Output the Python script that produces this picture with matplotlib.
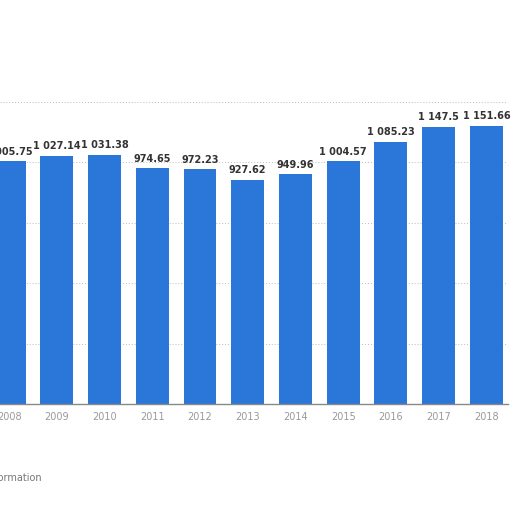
import matplotlib.pyplot as plt

years = ["2008", "2009", "2010", "2011", "2012", "2013", "2014", "2015", "2016", "2017", "2018"]
values = [1005.75, 1027.14, 1031.38, 974.65, 972.23, 927.62, 949.96, 1004.57, 1085.23, 1147.5, 1151.66]
labels = ["1 005.75", "1 027.14", "1 031.38", "974.65", "972.23", "927.62", "949.96",
          "1 004.57", "1 085.23", "1 147.5", "1 151.66"]
y_ticks = [0, 250, 500, 750, 1000, 1250]

fig = plt.figure(figsize=(5.12, 5.12), dpi=100)
ax = fig.add_axes([0.0, 0.211, 0.992, 0.59])

x = list(range(len(years)))
ax.bar(x, values, width=0.69, color="#2a77d9", zorder=2)

for xi, v, lab in zip(x, values, labels):
    ax.text(xi, v + 18, lab, ha="center", va="bottom", fontsize=7,
            fontweight="bold", color="#333333", zorder=3)

ax.set_xlim(-0.19, 10.45)
ax.set_ylim(0, 1250)
ax.set_yticks(y_ticks)
ax.yaxis.grid(True, linestyle=(0, (1, 2)), color="#bbbbbb", linewidth=0.7, zorder=0)
ax.tick_params(axis="y", left=False, labelleft=False)
ax.set_xticks(x)
ax.set_xticklabels(years, fontsize=7, color="#999999")
ax.tick_params(axis="x", length=0, pad=6)

for side in ["top", "left", "right"]:
    ax.spines[side].set_visible(False)
ax.spines["bottom"].set_color("#888888")
ax.spines["bottom"].set_linewidth(1)

fig.text(0.082, 0.066, "Additional Information", ha="right", va="center",
         fontsize=7, color="#777777")

fig.savefig("out.png", dpi=100)
